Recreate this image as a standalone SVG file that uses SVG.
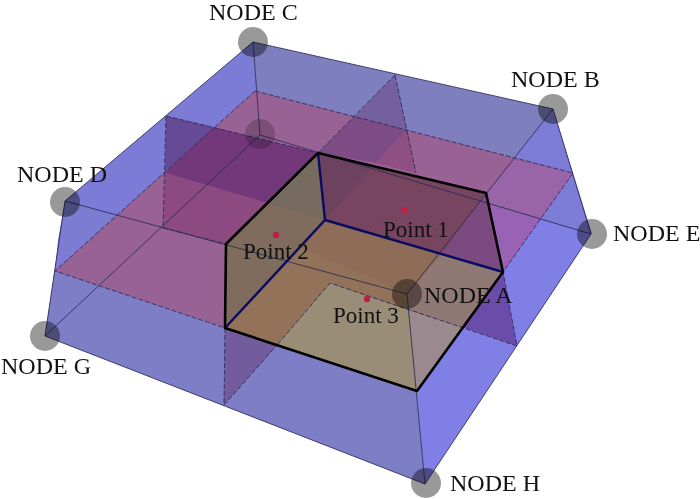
<svg xmlns="http://www.w3.org/2000/svg" width="700" height="499" viewBox="0 0 700 499">
<style>
text{font-family:"Liberation Serif","Times New Roman",serif;font-size:24px;fill:#111}
.t{font-size:23px}
.n{fill:#999;mix-blend-mode:multiply}
.e{fill:none;stroke:#2a2a55;stroke-width:1;stroke-opacity:.85}
.d{fill:none;stroke:#2a2a55;stroke-width:1;stroke-dasharray:5 2;stroke-opacity:.85}
.b{fill:none;stroke:#000;stroke-width:2.6;stroke-linejoin:round}
.v{fill:none;stroke:#0a0a60;stroke-width:2.4}
.p{fill:#c01f45}
</style>
<g id="faces">
<polygon points="253,42 65,201 45,336 260,135" fill="#7c7cd6"/>
<polygon points="253,42 553,109 591,234 260,135" fill="#7f7fbf"/>
<polygon points="553,109 591,234 425,484 407,294" fill="#7f7fe6"/>
<polygon points="553,109 573,173 592,234 540,219 514,160" fill="#7d7dd8"/>
<polygon points="65,201 45,336 425,484 407,294" fill="#7e7ec6"/>
<polygon points="65,201 260,135 226,244" fill="#7c7cd8"/>
<polygon points="65,201 226,244 55,271 58,240" fill="#7c7cd2"/>
</g>
<g id="planes">
<polygon points="255,91 573,173 503,272 462,327 330,283 277,345 55,271" fill="#996295"/>
<polygon points="490,205 540,219 503,272" fill="#9a62b4"/>
<polygon points="486,193 514,160 573,173 540,219 490,205" fill="#9965a8"/>
<polygon points="166,116 213,127 165,173" fill="#674a96"/>
<polygon points="213,127 318,153 267,203 165,173" fill="#72387a"/>
<polygon points="165,173 267,203 226,244 163,228" fill="#8d4a80"/>
<polygon points="395,75 407,130 355,116" fill="#75609f"/>
<polygon points="355,116 407,130 376,163 318,153" fill="#7d4c85"/>
<polygon points="407,130 416,173 376,163" fill="#8f4f80"/>
<polygon points="225,328 224,405 277,345" fill="#725c9e"/>
<polygon points="503,272 517,346 462,327" fill="#6a4cab"/>
</g>
<g id="box">
<polygon points="226,244 318,153 325,220 225,328" fill="#7f6c5c"/>
<polygon points="318,153 267,203 325,220" fill="#776a5e"/>
<polygon points="318,153 486,193 503,272 325,220" fill="#77455f"/>
<polygon points="318,153 373,166 325,220" fill="#6c425f"/>
<polygon points="486,193 503,272 442,254" fill="#7a4a80"/>
<polygon points="225,328 325,220 503,272 417,391" fill="#8e6c58"/>
<polygon points="225,328 300,247 407,294 408,310 330,283 277,345" fill="#927259"/>
<polygon points="277,345 330,283 408,310 417,391" fill="#9a8d78"/>
<polygon points="408,310 462,327 417,391" fill="#9a8a90"/>
<polygon points="407,294 442,254 503,272 462,327 408,310" fill="#907874"/>
</g>
<g id="connectors">
<polyline class="e" points="253,42 553,109 591,234 425,484 45,336 65,201 253,42"/>
<polyline class="e" points="65,201 407,294 553,109"/>
<polyline class="e" points="45,336 260,135 591,234"/>
<line class="e" x1="253" y1="42" x2="260" y2="135"/>
<line class="e" x1="407" y1="294" x2="425" y2="484"/>
<polyline class="d" points="255,91 573,173 503,272 517,346 330,283 277,345"/>
<polyline class="d" points="255,91 55,271 225,328"/>
<polyline class="d" points="166,116 318,153"/>
<polyline class="d" points="166,116 163,228 226,244"/>
<polyline class="d" points="395,75 416,173"/>
<polyline class="d" points="395,75 318,153"/>
<polyline class="d" points="225,328 224,405 277,345"/>
<polyline class="v" points="318,153 325,220 503,272"/>
<line class="v" x1="325" y1="220" x2="225" y2="328"/>
<polygon class="b" points="318,153 486,193 503,272 417,391 225,328 226,244"/>
</g>
<g id="node-c"><circle class="n" cx="253" cy="42" r="15"/><text x="209" y="20">NODE C</text></g>
<g id="node-b"><circle class="n" cx="553" cy="109" r="15"/><text x="511" y="87">NODE B</text></g>
<g id="node-e"><circle class="n" cx="592" cy="234" r="15"/><text x="613" y="241">NODE E</text></g>
<g id="node-d"><circle class="n" cx="65" cy="202" r="15"/><text x="17" y="182">NODE D</text></g>
<g id="node-g"><circle class="n" cx="45" cy="336" r="15"/><text x="1" y="374">NODE G</text></g>
<g id="node-h"><circle class="n" cx="426" cy="483" r="15"/><text x="450" y="491">NODE H</text></g>
<g id="node-a"><circle class="n" cx="407" cy="294" r="15"/><text x="424" y="303">NODE A</text></g>
<g id="node-f"><circle class="n" cx="260" cy="134" r="15" style="fill:#ccc"/></g>
<g id="point-1"><circle class="p" cx="405" cy="210" r="3.2"/><text class="t" x="383" y="237">Point 1</text></g>
<g id="point-2"><circle class="p" cx="276" cy="235" r="3.2"/><text class="t" x="243" y="259">Point 2</text></g>
<g id="point-3"><circle class="p" cx="367" cy="299" r="3.2"/><text class="t" x="333" y="323">Point 3</text></g>
</svg>
